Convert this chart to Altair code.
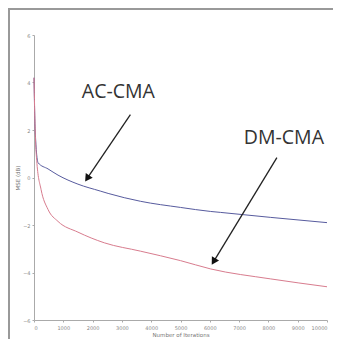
import altair as alt
import pandas as pd

# AC-CMA (blue) curve
ac_iter = [0, 40, 140, 480, 820, 1500, 2260, 2530, 3630, 5000, 6030, 6370, 8080, 10000]
ac_mse = [4.2, 2.0, 0.62, 0.36, 0.1, -0.28, -0.57, -0.67, -1.0, -1.26, -1.43, -1.47, -1.68, -1.9]
# DM-CMA (red) curve
dm_iter = [0, 40, 100, 240, 480, 820, 1500, 2400, 3630, 5000, 6030, 8080, 10000]
dm_mse = [4.2, 2.0, 0.6, -0.5, -1.35, -1.85, -2.3, -2.75, -3.1, -3.5, -3.85, -4.27, -4.6]

x_ticks = [0, 1000, 2000, 3000, 4000, 5000, 6000, 7000, 8000, 9000, 10000]
y_ticks = [-6, -4, -2, 0, 2, 4, 6]

labels = ["AC-CMA", "DM-CMA"]
label_x = [2880, 8530]
label_y = [3.62, 1.68]
arrow_x0 = [3290, 8290]
arrow_y0 = [2.65, 0.84]
arrow_x1 = [1815, 6130]
arrow_y1 = [-0.04, -3.54]
arrow_angle = [214, 211]

ac = pd.DataFrame({"it": ac_iter, "mse": ac_mse, "s": "AC-CMA"})
dm = pd.DataFrame({"it": dm_iter, "mse": dm_mse, "s": "DM-CMA"})
lines = pd.concat([ac, dm])
ann = pd.DataFrame({"label": labels, "lx": label_x, "ly": label_y,
                    "x0": arrow_x0, "y0": arrow_y0, "x1": arrow_x1, "y1": arrow_y1,
                    "ang": arrow_angle})

xs = alt.Scale(domain=[0, 10000], nice=False)
ys = alt.Scale(domain=[-6, 6], nice=False)

xax = alt.Axis(values=x_ticks, format="d", title="Number of  Iterations", labelFontSize=5, titleFontSize=5.5,
               labelColor="#888", titleColor="#777", domainColor="#aaa", tickColor="#aaa",
               tickSize=2, grid=False, labelPadding=3, titlePadding=2, titleFontWeight="normal",
               labelOverlap=False, labelFont="DejaVu Sans", titleFont="DejaVu Sans")
yax = alt.Axis(values=y_ticks, format="d", title="MSE (dB)", labelFontSize=5, titleFontSize=5.5,
               labelColor="#888", titleColor="#777", domainColor="#aaa", tickColor="#aaa",
               tickSize=2, grid=False, labelPadding=2, titlePadding=2, titleFontWeight="normal",
               labelOverlap=False, labelFont="DejaVu Sans", titleFont="DejaVu Sans")

line = alt.Chart(lines).mark_line(strokeWidth=1, interpolate="monotone").encode(
    x=alt.X("it:Q", scale=xs, axis=xax),
    y=alt.Y("mse:Q", scale=ys, axis=yax),
    color=alt.Color("s:N", scale=alt.Scale(domain=["AC-CMA", "DM-CMA"], range=["#575b9e", "#d87c8e"]), legend=None),
)

base = alt.Chart(ann)
text = base.mark_text(fontSize=19.5, font="Open Sans", color="#333").encode(
    x=alt.X("lx:Q", scale=xs, axis=xax), y=alt.Y("ly:Q", scale=ys, axis=yax), text="label:N")
arrow = base.mark_rule(color="#222", strokeWidth=1.3).encode(
    x=alt.X("x0:Q", scale=xs, axis=xax), y=alt.Y("y0:Q", scale=ys, axis=yax), x2="x1:Q", y2="y1:Q")
head = base.mark_point(shape="triangle-up", filled=True, color="#111", size=70, opacity=1).encode(
    x=alt.X("x1:Q", scale=xs, axis=xax), y=alt.Y("y1:Q", scale=ys, axis=yax),
    angle=alt.Angle("ang:Q", scale=None))

frame_top = alt.Chart(ann).mark_rule(color="#999", strokeWidth=2).encode(
    x=alt.value(-26), x2=alt.value(320), y=alt.value(-26))
frame_left = alt.Chart(ann).mark_rule(color="#999", strokeWidth=2).encode(
    x=alt.value(-25), y=alt.value(-27), y2=alt.value(325))

chart = alt.layer(line, arrow, head, text, frame_top, frame_left).properties(
    width=293, height=285,
    autosize=alt.AutoSizeParams(type="none"),
    padding={"left": 26, "top": 27, "right": 6, "bottom": 19},
).configure_view(stroke=None).configure_axis(labelOverlap=False)

chart.save("out.html", embed_options={"renderer": "svg", "actions": False})
